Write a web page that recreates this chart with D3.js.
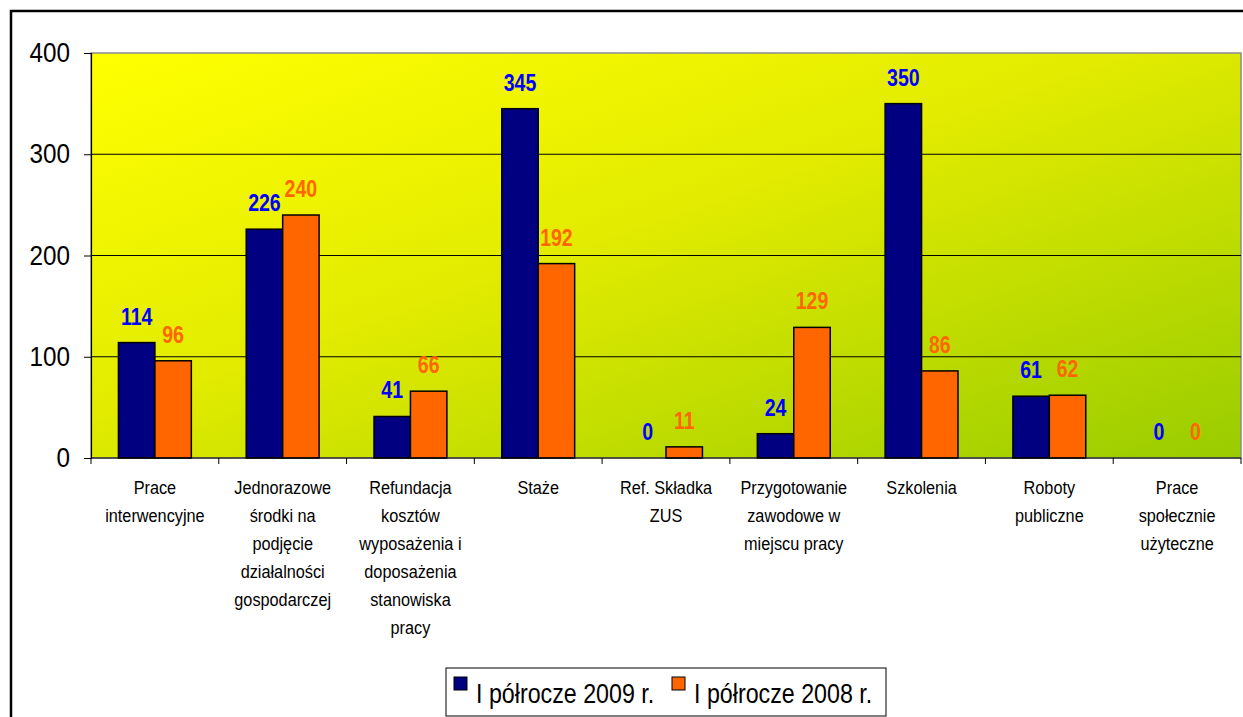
<!DOCTYPE html>
<html><head><meta charset="utf-8">
<script src="https://cdn.jsdelivr.net/npm/d3@7"></script>
<style>
html,body{margin:0;padding:0;background:#fff;overflow:hidden}
svg{display:block}
text{font-family:"Liberation Sans",Arial,sans-serif}
</style></head>
<body>
<svg id="chart" width="1243" height="717"></svg>
<script>
const categories = [
  ["Prace", "interwencyjne"],
  ["Jednorazowe", "środki na", "podjęcie", "działalności", "gospodarczej"],
  ["Refundacja", "kosztów", "wyposażenia i", "doposażenia", "stanowiska", "pracy"],
  ["Staże"],
  ["Ref. Składka", "ZUS"],
  ["Przygotowanie", "zawodowe w", "miejscu pracy"],
  ["Szkolenia"],
  ["Roboty", "publiczne"],
  ["Prace", "społecznie", "użyteczne"]
];
const seriesNames = ["I półrocze 2009 r.", "I półrocze 2008 r."];
const values2009 = [114, 226, 41, 345, 0, 24, 350, 61, 0];
const values2008 = [96, 240, 66, 192, 11, 129, 86, 62, 0];
const yTicks = [0, 100, 200, 300, 400];

const barColors = ["#000080", "#FF6600"];
const labelColors = ["#0000FF", "#FF6600"];

const svg = d3.select("#chart");
const L = 91, R = 1241, T = 53, B = 458;

// outer frame
svg.append("rect").attr("x", 11).attr("y", 11).attr("width", 1300).attr("height", 800)
  .attr("fill", "none").attr("stroke", "#000").attr("stroke-width", 2.5);

const defs = svg.append("defs");
const grad = defs.append("linearGradient").attr("id", "bg")
  .attr("x1", "0%").attr("y1", "0%").attr("x2", "100%").attr("y2", "100%");
grad.append("stop").attr("offset", "0%").attr("stop-color", "#FFFF00");
grad.append("stop").attr("offset", "45%").attr("stop-color", "#E2EB00");
grad.append("stop").attr("offset", "100%").attr("stop-color", "#99CC00");

const idx = categories.map((d, i) => i);
const x = d3.scaleBand().domain(idx).range([L, R]).paddingInner(0).paddingOuter(0);
const xs = d3.scaleBand().domain([0, 1]).range([0, x.bandwidth()]).paddingInner(0).paddingOuter(0.753);
const y = d3.scaleLinear().domain([0, 400]).range([B, T]);

svg.append("rect").attr("x", L).attr("y", T).attr("width", R - L).attr("height", B - T)
  .attr("fill", "url(#bg)").attr("stroke", "#8c8c8c").attr("stroke-width", 1.5);

// gridlines
svg.append("g").selectAll("line").data(yTicks.filter(v => v > 0 && v < 400)).join("line")
  .attr("x1", L).attr("x2", R).attr("y1", d => y(d)).attr("y2", d => y(d))
  .attr("stroke", "#000").attr("stroke-width", 1);

// y axis
const yAxis = d3.axisLeft(y).tickValues(yTicks).tickSize(7).tickPadding(14).tickFormat(d3.format("d"));
const gy = svg.append("g").attr("transform", `translate(${L},0)`).call(yAxis);
gy.select(".domain").attr("stroke", "#000").attr("stroke-width", 1.2);
gy.selectAll(".tick line").attr("stroke", "#000");
gy.selectAll(".tick text").attr("font-size", 27).attr("fill", "#000")
  .attr("x", 0).attr("transform", "translate(-21,0) scale(0.9,1)")
  .style("font-family", '"Liberation Sans",Arial,sans-serif');

// bars
const series = [values2009, values2008];
series.forEach((vals, s) => {
  svg.append("g").selectAll("rect").data(vals).join("rect")
    .attr("x", (d, i) => x(i) + xs(s))
    .attr("y", d => y(d))
    .attr("width", xs.bandwidth())
    .attr("height", d => B - y(d))
    .attr("fill", barColors[s])
    .attr("stroke", d => d > 0 ? "#000" : "none")
    .attr("stroke-width", 1.5);
  svg.append("g").selectAll("text").data(vals).join("text")
    .attr("transform", (d, i) => `translate(${x(i) + xs(s) + xs.bandwidth() / 2},${y(d) - 18}) scale(0.85,1)`)
    .attr("text-anchor", "middle")
    .attr("font-size", 23).attr("font-weight", "bold")
    .attr("fill", labelColors[s])
    .text(d => d);
});

// x axis line and ticks
svg.append("line").attr("x1", L).attr("x2", R).attr("y1", B).attr("y2", B)
  .attr("stroke", "#000").attr("stroke-width", 1.2);
const bounds = idx.map(i => x(i)).concat([R]);
svg.append("g").selectAll("line").data(bounds).join("line")
  .attr("x1", d => d).attr("x2", d => d).attr("y1", B).attr("y2", B + 6)
  .attr("stroke", "#000").attr("stroke-width", 1);

// category labels
const cat = svg.append("g").selectAll("text").data(categories).join("text")
  .attr("text-anchor", "middle").attr("font-size", 18.5).attr("fill", "#000")
  .attr("transform", (d, i) => `translate(${x(i) + x.bandwidth() / 2},494) scale(0.88,1)`);
cat.selectAll("tspan").data(d => d).join("tspan")
  .attr("x", 0).attr("y", (d, j) => j * 28).text(d => d);

// legend
const lg = svg.append("g");
lg.append("rect").attr("x", 446).attr("y", 668).attr("width", 440).attr("height", 48)
  .attr("fill", "#fff").attr("stroke", "#000").attr("stroke-width", 1);
const legX = [454, 672];
seriesNames.forEach((n, s) => {
  lg.append("rect").attr("x", legX[s]).attr("y", 677).attr("width", 13).attr("height", 13)
    .attr("fill", barColors[s]).attr("stroke", "#000").attr("stroke-width", 1);
  lg.append("text").attr("transform", `translate(${legX[s] + 22},703) scale(0.83,1)`)
    .attr("font-size", 28).attr("fill", "#000").text(n);
});
</script>
</body></html>
